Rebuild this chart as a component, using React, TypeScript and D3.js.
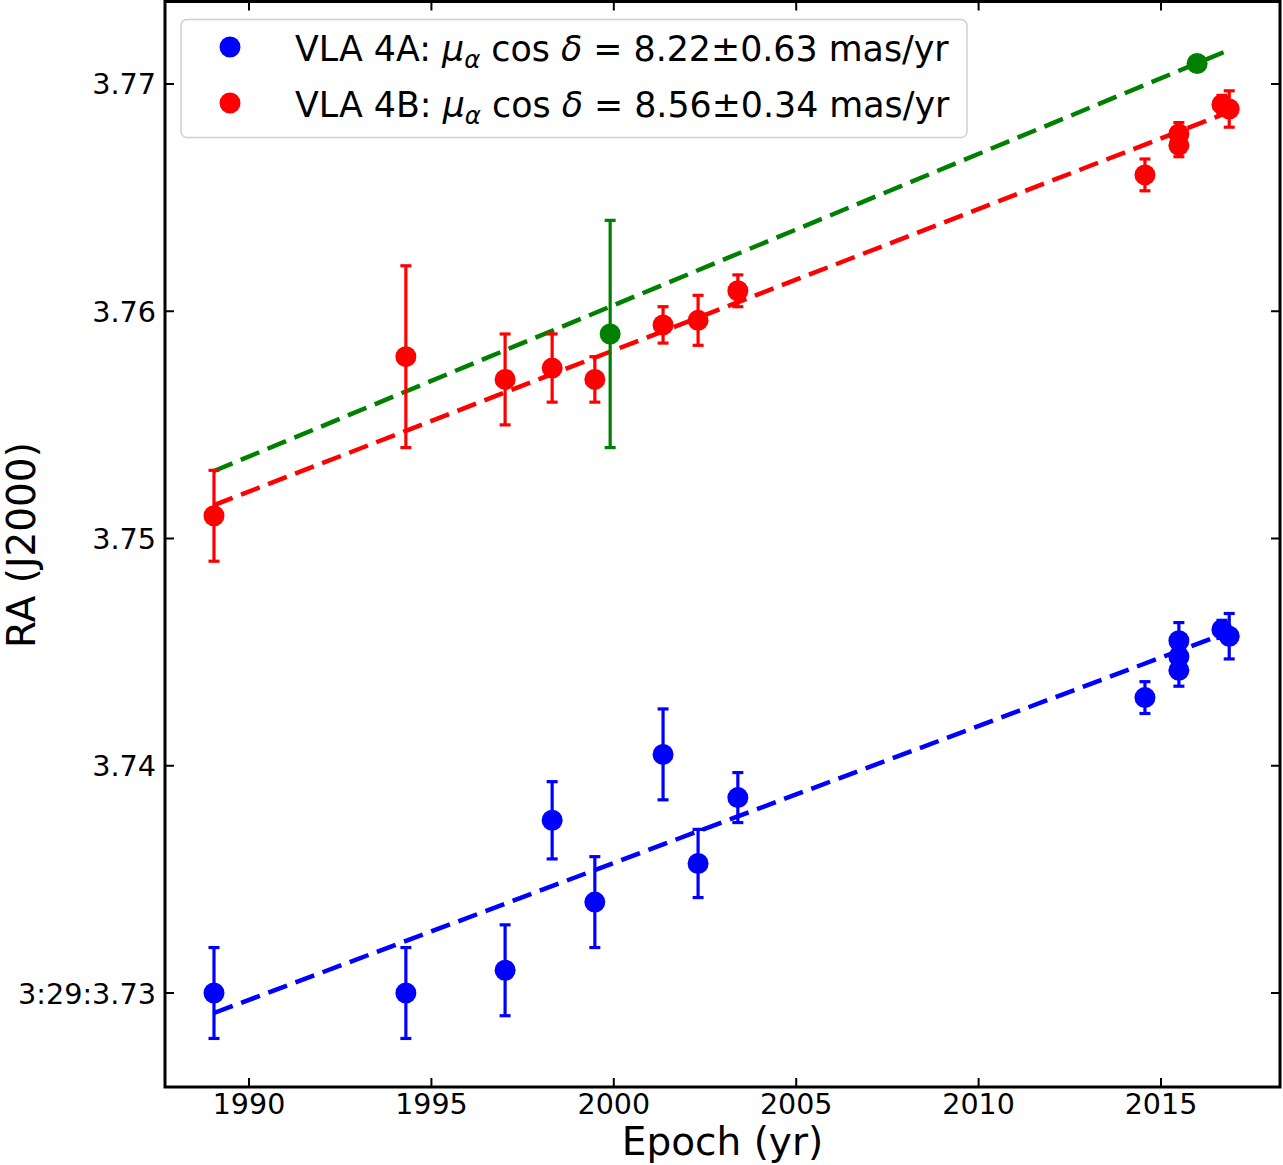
import { useEffect, useRef } from 'react';
import * as d3 from 'd3';

// Epochen (Jahr) und RA-Sekunden
const epochs4A = [1989.04, 1994.30, 1997.02, 1998.31, 1999.48, 2001.35, 2002.31, 2003.40, 2014.56, 2015.49, 2015.49, 2015.49, 2016.67, 2016.87];
const ra4A = [3.7300, 3.7300, 3.7310, 3.7376, 3.7340, 3.7405, 3.7357, 3.7386, 3.7430, 3.7455, 3.7448, 3.7442, 3.7460, 3.7457];
const err4A = [0.0020, 0.0020, 0.0020, 0.0017, 0.0020, 0.0020, 0.0015, 0.0011, 0.0007, 0.0008, 0.0006, 0.0007, 0.0004, 0.0010];

const epochs4B = [1989.04, 1994.30, 1997.02, 1998.31, 1999.48, 2001.35, 2002.31, 2003.40, 2014.56, 2015.49, 2015.49, 2016.67, 2016.87];
const ra4B = [3.7510, 3.7580, 3.7570, 3.7575, 3.7570, 3.7594, 3.7596, 3.7609, 3.7660, 3.7678, 3.7673, 3.7691, 3.7689];
const err4B = [0.0020, 0.0040, 0.0020, 0.0015, 0.0010, 0.0008, 0.0011, 0.0007, 0.0007, 0.0005, 0.0005, 0.0004, 0.0008];

const epochsG = [1999.90, 2015.99];
const raG = [3.7590, 3.7709];
const errG = [0.0050, 0.0003];

// Endpunkte der Fit-Geraden
const fitEpochs = [1989.04, 2016.87];
const fit4A = [3.72912, 3.74589];
const fit4B = [3.75147, 3.76877];
const fitG = [3.75297, 3.77150];

const xTicks = [1990, 1995, 2000, 2005, 2010, 2015];
const yTicks = [3.73, 3.74, 3.75, 3.76, 3.77];
const yTickLabels = ['3:29:3.73', '3.74', '3.75', '3.76', '3.77'];

const legendLabels = [
    { name: 'VLA 4A: ', value: ' = 8.22\u00b10.63 mas/yr', color: '#0000ff' },
    { name: 'VLA 4B: ', value: ' = 8.56\u00b10.34 mas/yr', color: '#ff0000' },
];

const W = 1283;
const H = 1165;
const left = 165, right = 1280, top = 1.5, bottom = 1087;

const App = () => {
    const ref = useRef<SVGSVGElement>(null);

    useEffect(() => {
        const svg = d3.select(ref.current);
        svg.selectAll('*').remove();

        const x = d3.scaleLinear().domain([1987.697, 2018.262]).range([left, right]);
        const y = d3.scaleLinear().domain([3.725864, 3.77363]).range([bottom, top]);

        const g = svg.append('g');

        // Fit-Linien (gestrichelt)
        const line = d3.line<number>()
            .x((_, i) => x(fitEpochs[i]))
            .y(d => y(d));
        const fits: [number[], string][] = [[fitG, '#008000'], [fit4B, '#ff0000'], [fit4A, '#0000ff']];
        fits.forEach(([vals, color]) => {
            g.append('path')
                .attr('d', line(vals))
                .attr('fill', 'none')
                .attr('stroke', color)
                .attr('stroke-width', 4.5)
                .attr('stroke-dasharray', '20,9');
        });

        // Fehlerbalken und Punkte
        const series: [number[], number[], number[], string][] = [
            [epochs4A, ra4A, err4A, '#0000ff'],
            [epochs4B, ra4B, err4B, '#ff0000'],
            [epochsG, raG, errG, '#008000'],
        ];
        series.forEach(([ex, ey, ee, color]) => {
            const s = g.append('g');
            ex.forEach((t, i) => {
                const cx = x(t);
                const y1 = y(ey[i] + ee[i]);
                const y2 = y(ey[i] - ee[i]);
                s.append('line').attr('x1', cx).attr('x2', cx).attr('y1', y1).attr('y2', y2)
                    .attr('stroke', color).attr('stroke-width', 3.2);
                [y1, y2].forEach(yy => {
                    s.append('line').attr('x1', cx - 5.5).attr('x2', cx + 5.5).attr('y1', yy).attr('y2', yy)
                        .attr('stroke', color).attr('stroke-width', 3.2);
                });
            });
            s.selectAll('circle')
                .data(ex)
                .enter()
                .append('circle')
                .attr('cx', d => x(d))
                .attr('cy', (_, i) => y(ey[i]))
                .attr('r', 10.5)
                .attr('fill', color);
        });

        // Rahmen
        svg.append('rect')
            .attr('x', left).attr('y', top)
            .attr('width', right - left).attr('height', bottom - top)
            .attr('fill', 'none').attr('stroke', '#000').attr('stroke-width', 3);

        // Ticks nach innen, auf allen vier Seiten
        const tl = 9;
        xTicks.forEach(t => {
            svg.append('line').attr('x1', x(t)).attr('x2', x(t)).attr('y1', bottom).attr('y2', bottom - tl)
                .attr('stroke', '#000').attr('stroke-width', 2);
            svg.append('line').attr('x1', x(t)).attr('x2', x(t)).attr('y1', top).attr('y2', top + tl)
                .attr('stroke', '#000').attr('stroke-width', 2);
            svg.append('text').attr('x', x(t)).attr('y', 1114)
                .attr('text-anchor', 'middle').attr('font-size', 28.5)
                .text(String(t));
        });
        yTicks.forEach((t, i) => {
            svg.append('line').attr('x1', left).attr('x2', left + tl).attr('y1', y(t)).attr('y2', y(t))
                .attr('stroke', '#000').attr('stroke-width', 2);
            svg.append('line').attr('x1', right).attr('x2', right - tl).attr('y1', y(t)).attr('y2', y(t))
                .attr('stroke', '#000').attr('stroke-width', 2);
            svg.append('text').attr('x', 156).attr('y', y(t) + 10.5)
                .attr('text-anchor', 'end').attr('font-size', 28.7)
                .text(yTickLabels[i]);
        });

        // Achsentitel
        svg.append('text').attr('x', (left + right) / 2).attr('y', 1155)
            .attr('text-anchor', 'middle').attr('font-size', 39)
            .text('Epoch (yr)');
        svg.append('text')
            .attr('transform', `translate(35, 545) rotate(-90)`)
            .attr('text-anchor', 'middle').attr('font-size', 39)
            .text('RA (J2000)');

        // Legende
        const lg = svg.append('g');
        lg.append('rect')
            .attr('x', 181).attr('y', 19.5).attr('width', 786).attr('height', 118).attr('rx', 6)
            .attr('fill', '#fff').attr('fill-opacity', 0.8)
            .attr('stroke', '#d0d0d0').attr('stroke-width', 1.5);
        legendLabels.forEach((d, i) => {
            const cy = 47 + i * 56;
            lg.append('circle').attr('cx', 230).attr('cy', cy).attr('r', 10.5).attr('fill', d.color);
            const txt = lg.append('text').attr('x', 295).attr('y', cy + 14).attr('font-size', 34.8);
            txt.append('tspan').text(d.name);
            txt.append('tspan').attr('font-style', 'italic').text('\u03bc');
            txt.append('tspan').attr('font-style', 'italic').attr('font-size', 24.5).attr('dy', 7).text('\u03b1');
            txt.append('tspan').attr('dy', -7).text(' cos ');
            txt.append('tspan').attr('font-style', 'italic').text('\u03b4');
            txt.append('tspan').text(d.value);
        });
    }, []);

    return (
        <svg
            ref={ref}
            width={W}
            height={H}
            style={{ position: 'absolute', left: 0, top: 0, background: '#fff' }}
            fontFamily="'DejaVu Sans', sans-serif"
        />
    );
};

export default App;
